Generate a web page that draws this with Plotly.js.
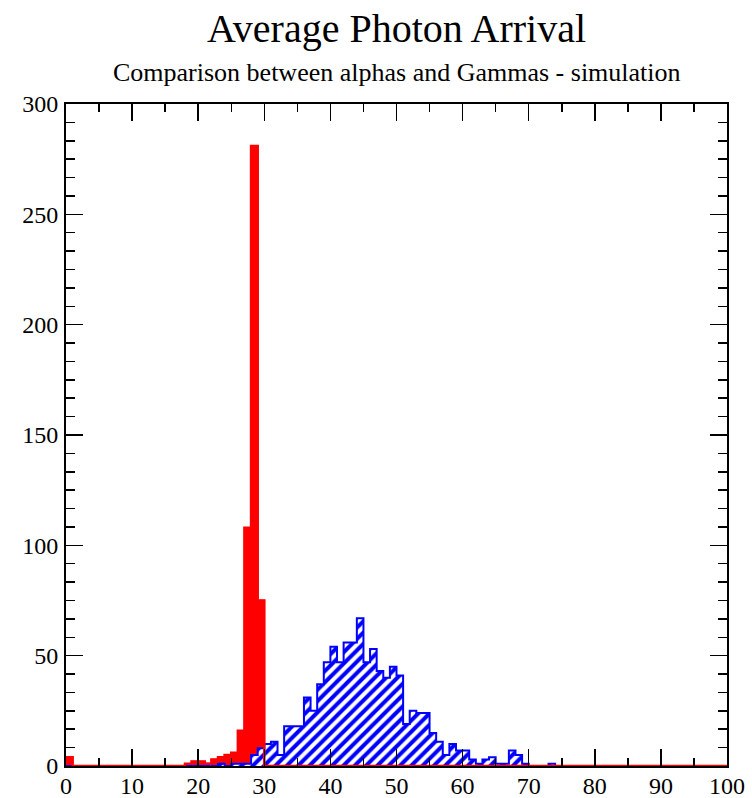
<!DOCTYPE html>
<html><head><meta charset="utf-8">
<script src="https://cdn.plot.ly/plotly-3.0.1.min.js"></script>
<style>body{margin:0;background:#fff}</style>
</head><body><div id="chart" style="width:752px;height:798px"></div>
<script>
// bin edges 0..100 (1-unit bins)
const binEdges = Array.from({length: 101}, (_, i) => i);

// alphas (red, solid)
const alphaCounts = [
  4,0,0,0,0,0,0,0,0,0,
  0,0,0,0,0,0,0,0,1,2,
  2,1,3,4,5,6,16,108,281,75,
  0,0,0,0,0,0,0,0,0,0,
  0,0,0,0,0,0,0,0,0,0,
  0,0,0,0,0,0,0,0,0,0,
  0,0,0,0,0,0,0,0,0,0,
  0,0,0,0,0,0,0,0,0,0,
  0,0,0,0,0,0,0,0,0,0,
  0,0,0,0,0,0,0,0,0,0
];

// gammas (blue, hatched)
const gammaCounts = [
  0,0,0,0,0,0,0,0,0,0,
  0,0,0,0,0,0,0,0,0,0,
  0,1,0,1,0,1,1,1,5,8,
  10,11,5,18,18,18,31,25,37,47,
  54,47,56,56,67,47,53,43,40,45,
  41,19,25,24,24,15,11,5,10,7,
  7,3,1,3,4,1,1,7,5,1,
  0,0,0,1,0,0,0,0,0,0,
  0,0,0,0,0,0,0,0,0,0,
  0,0,0,0,0,0,0,0,0,0
];

const titleText = 'Average Photon Arrival';
const subtitleText = 'Comparison between alphas and Gammas - simulation';

function step(counts) { return counts.concat([counts[counts.length - 1]]); }

const serif = 'Liberation Serif, Times New Roman, serif';

const traces = [
  {
    x: binEdges, y: step(alphaCounts), type: 'scatter', mode: 'lines',
    line: {color: 'red', width: 1.5, shape: 'hv'},
    fill: 'tozeroy', fillcolor: 'red', hoverinfo: 'skip'
  },
  {
    x: binEdges, y: step(gammaCounts), type: 'scatter', mode: 'lines',
    line: {color: 'blue', width: 2, shape: 'hv'},
    fill: 'tozeroy',
    fillpattern: {shape: '/', fgcolor: 'blue', bgcolor: 'white', size: 8, solidity: 0.5},
    hoverinfo: 'skip'
  },
  {
    x: binEdges, y: step(alphaCounts), type: 'scatter', mode: 'lines',
    line: {color: 'red', width: 2.5, shape: 'hv'}, hoverinfo: 'skip'
  }
];

const axisCommon = {
  ticks: 'inside', tickwidth: 1.5, tickcolor: 'black',
  showline: true, linewidth: 2, linecolor: 'black', mirror: 'ticks',
  showgrid: false, zeroline: false,
  tickfont: {family: serif, size: 24, color: 'black'}
};

const layout = {
  width: 752, height: 798,
  margin: {l: 66, r: 25, t: 104, b: 32},
  paper_bgcolor: 'white', plot_bgcolor: 'white',
  showlegend: false,
  title: {
    text: titleText, x: 0.5, xref: 'paper', xanchor: 'center',
    y: 1 - 28 / 798, yref: 'container', yanchor: 'middle',
    font: {family: serif, size: 40, color: 'black'}
  },
  annotations: [{
    text: subtitleText, xref: 'paper', yref: 'paper', x: 0.5, y: 1,
    xanchor: 'center', yanchor: 'middle', yshift: 32, showarrow: false,
    font: {family: serif, size: 26, color: 'black'}
  }],
  xaxis: Object.assign({}, axisCommon, {
    range: [0, 100], tick0: 0, dtick: 10, ticklen: 17, ticklabelstandoff: -3,
    minor: {dtick: 5, ticklen: 8, tickwidth: 1.5, tickcolor: 'black', ticks: 'inside'}
  }),
  yaxis: Object.assign({}, axisCommon, {
    range: [0, 300], tick0: 0, dtick: 50, ticklen: 17, ticklabelstandoff: 1,
    minor: {dtick: 50 / 6, ticklen: 9, tickwidth: 1.5, tickcolor: 'black', ticks: 'inside'}
  })
};

Plotly.newPlot('chart', traces, layout, {displayModeBar: false, staticPlot: true});
</script>
</body></html>
